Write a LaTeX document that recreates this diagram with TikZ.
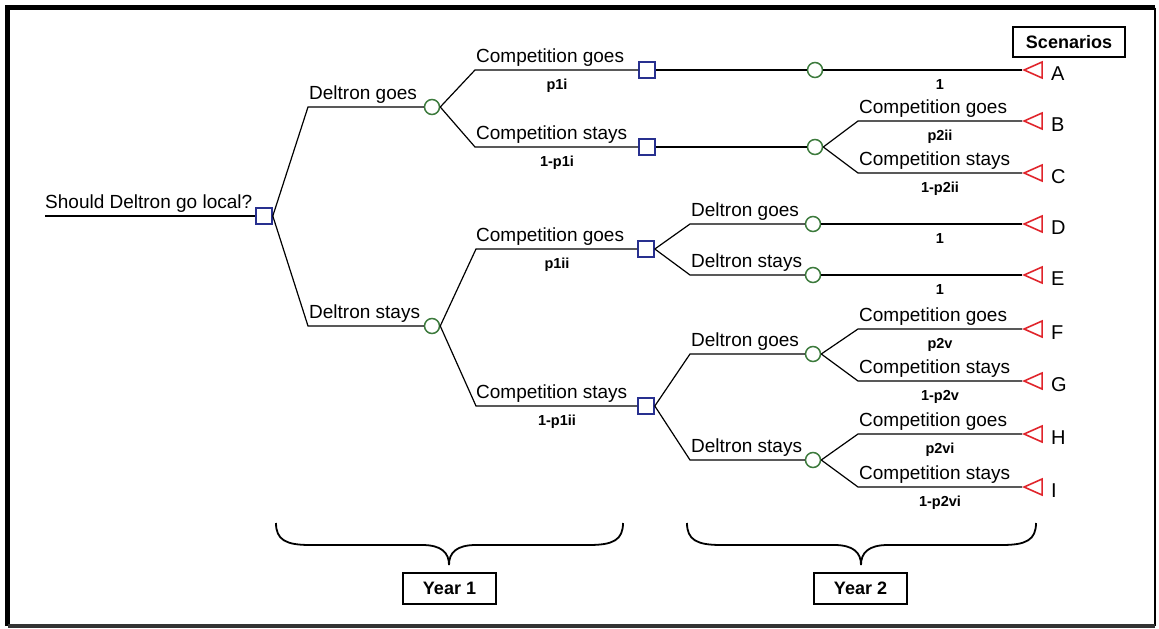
\documentclass[tikz,border=0pt]{standalone}
\usepackage{fontspec}
\setmainfont{Liberation Sans}
\usetikzlibrary{shapes.geometric}
\definecolor{decblue}{HTML}{28308F}
\definecolor{chgreen}{HTML}{3C7A3C}
\definecolor{termred}{HTML}{E0242B}
\begin{document}
\begin{tikzpicture}[x=1pt,y=-1pt,
  dec/.style={draw=decblue, line width=1.6pt, fill=white, minimum size=16pt, inner sep=0pt},
  chance/.style={circle, draw=chgreen, line width=1.5pt, fill=white, minimum size=15pt, inner sep=0pt},
  term/.style={isosceles triangle, shape border rotate=180, draw=termred, line width=1.6pt,
    isosceles triangle stretches, minimum width=16pt, minimum height=18pt, inner sep=0pt, anchor=apex},
  br/.style={line width=1.2pt},
  lab/.style={anchor=base west, inner sep=0pt, font=\fontsize{19}{19}\selectfont},
  prob/.style={anchor=base, inner sep=0pt, font=\fontsize{14.5}{14.5}\selectfont\bfseries},
  scen/.style={anchor=base west, inner sep=0pt, font=\fontsize{20}{20}\selectfont},
  yearbox/.style={draw, line width=1.4pt, minimum width=93pt, minimum height=31pt, inner sep=0pt,
    font=\fontsize{18}{18}\selectfont\bfseries},
  brace/.style={line width=1.8pt}
]
\useasboundingbox (0,0) rectangle (1159,629);
% frame
\draw[line width=5pt] (7.5,626) -- (7.5,7.5) -- (1155,7.5);
\draw[line width=2.5pt] (1155,7.5) -- (1155,626);
\draw[line width=4pt, black!80] (7.5,626) -- (1155,626);

% root
\coordinate (r0) at (45,216);
\node[dec] (R) at (264,216) {};
\draw[br] (r0) -- (R);
\node[lab] (tR) at (45,208) {Should Deltron go local?};

% year 1 first level
\coordinate (b1) at (308,107);
\coordinate (b2) at (308,326);
\node[chance] (D1) at (432,107) {};
\node[chance] (D2) at (432,326) {};
\draw[br] (R.east) -- (b1) -- (D1);
\draw[br] (R.east) -- (b2) -- (D2);
\node[lab] (tD1) at (309,99) {Deltron goes};
\node[lab] (tD2) at (309,318) {Deltron stays};

% competition after Deltron goes
\coordinate (b3) at (475,70);
\coordinate (b4) at (475,147);
\node[dec] (S1) at (647,70) {};
\node[dec] (S2) at (647,147) {};
\draw[br] (D1.east) -- (b3) -- (S1);
\draw[br] (D1.east) -- (b4) -- (S2);
\node[lab] (tS1) at (476,62) {Competition goes};
\node[lab] (tS2) at (476,139) {Competition stays};
\node[prob] (pS1) at (557,89) {p1i};
\node[prob] (pS2) at (557,166) {1-p1i};

% competition after Deltron stays
\coordinate (b5) at (476,249);
\coordinate (b6) at (476,406);
\node[dec] (S3) at (646,249) {};
\node[dec] (S4) at (646,406) {};
\draw[br] (D2.east) -- (b5) -- (S3);
\draw[br] (D2.east) -- (b6) -- (S4);
\node[lab] (tS3) at (476,241) {Competition goes};
\node[lab] (tS4) at (476,398) {Competition stays};
\node[prob] (pS3) at (557,268) {p1ii};
\node[prob] (pS4) at (557,425) {1-p1ii};

% year 2 chance nodes
\node[chance] (C1) at (815,70) {};
\node[chance] (C2) at (815,147) {};
\draw[br] (S1) -- (C1);
\draw[br] (S2) -- (C2);

\coordinate (b7) at (690,224);
\coordinate (b8) at (690,275);
\coordinate (b9) at (690,354);
\coordinate (b10) at (690,460);
\node[chance] (C3) at (813,224) {};
\node[chance] (C4) at (813,275) {};
\node[chance] (C5) at (813,354) {};
\node[chance] (C6) at (813,460) {};
\draw[br] (S3.east) -- (b7) -- (C3);
\draw[br] (S3.east) -- (b8) -- (C4);
\draw[br] (S4.east) -- (b9) -- (C5);
\draw[br] (S4.east) -- (b10) -- (C6);
\node[lab] (tC3) at (691,216) {Deltron goes};
\node[lab] (tC4) at (691,267) {Deltron stays};
\node[lab] (tC5) at (691,346) {Deltron goes};
\node[lab] (tC6) at (691,452) {Deltron stays};

% terminals
\node[term] (TA) at (1022,70) {};
\node[term] (TB) at (1022,121) {};
\node[term] (TC) at (1022,173) {};
\node[term] (TD) at (1022,224) {};
\node[term] (TE) at (1022,275) {};
\node[term] (TF) at (1022,329) {};
\node[term] (TG) at (1022,381) {};
\node[term] (TH) at (1022,434) {};
\node[term] (TI) at (1022,487) {};

\coordinate (bB) at (858,121);
\coordinate (bC) at (858,173);
\coordinate (bF) at (858,329);
\coordinate (bG) at (858,381);
\coordinate (bH) at (858,434);
\coordinate (bI) at (858,487);

\draw[br] (C1) -- (TA.apex);
\draw[br] (C2.east) -- (bB) -- (TB.apex);
\draw[br] (C2.east) -- (bC) -- (TC.apex);
\draw[br] (C3) -- (TD.apex);
\draw[br] (C4) -- (TE.apex);
\draw[br] (C5.east) -- (bF) -- (TF.apex);
\draw[br] (C5.east) -- (bG) -- (TG.apex);
\draw[br] (C6.east) -- (bH) -- (TH.apex);
\draw[br] (C6.east) -- (bI) -- (TI.apex);

\node[lab] (tB) at (859,113) {Competition goes};
\node[lab] (tC) at (859,165) {Competition stays};
\node[lab] (tF) at (859,321) {Competition goes};
\node[lab] (tG) at (859,373) {Competition stays};
\node[lab] (tH) at (859,426) {Competition goes};
\node[lab] (tI) at (859,479) {Competition stays};

\node[prob] (pA) at (940,89) {1};
\node[prob] (pB) at (940,140) {p2ii};
\node[prob] (pC) at (940,192) {1-p2ii};
\node[prob] (pD) at (940,243) {1};
\node[prob] (pE) at (940,294) {1};
\node[prob] (pF) at (940,348) {p2v};
\node[prob] (pG) at (940,400) {1-p2v};
\node[prob] (pH) at (940,453) {p2vi};
\node[prob] (pI) at (940,506) {1-p2vi};

\node[scen] (lA) at (1051,80) {A};
\node[scen] (lB) at (1051,131) {B};
\node[scen] (lC) at (1051,183) {C};
\node[scen] (lD) at (1051,234) {D};
\node[scen] (lE) at (1051,285) {E};
\node[scen] (lF) at (1051,339) {F};
\node[scen] (lG) at (1051,391) {G};
\node[scen] (lH) at (1051,444) {H};
\node[scen] (lI) at (1051,497) {I};

\node[yearbox, minimum width=112pt, minimum height=30pt] (Sc) at (1069,42) {Scenarios};

% braces
\draw[brace] (276,523) .. controls (276,540) and (286,545) .. (310,545)
  -- (422,545) .. controls (442,545) and (449,553) .. (449,565)
  .. controls (449,553) and (456,545) .. (476,545)
  -- (589,545) .. controls (613,545) and (623,540) .. (623,523);
\draw[brace] (687,523) .. controls (687,540) and (697,545) .. (721,545)
  -- (834,545) .. controls (854,545) and (861,553) .. (861,565)
  .. controls (861,553) and (868,545) .. (888,545)
  -- (1002,545) .. controls (1026,545) and (1036,540) .. (1036,523);
\node[yearbox] (Y1) at (449.5,588.5) {Year 1};
\node[yearbox] (Y2) at (860.5,588.5) {Year 2};
\end{tikzpicture}
\end{document}
